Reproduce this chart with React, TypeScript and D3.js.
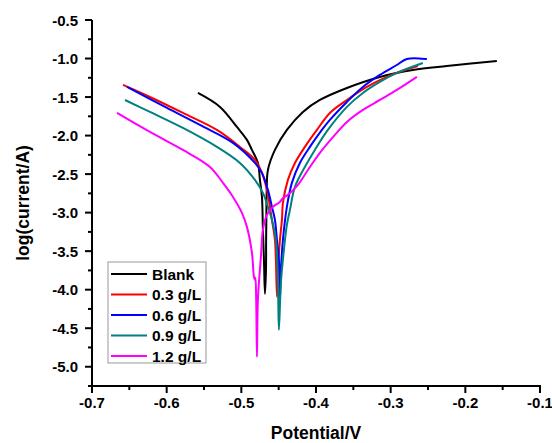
import React from 'react';
import * as d3 from 'd3';

// ---------- data (potential in V, log current) ----------
const blankE = [-0.5581, -0.5286, -0.5059, -0.4925, -0.4858, -0.4778, -0.4751, -0.4724, -0.4711, -0.4697, -0.4684,
  -0.4670, -0.4668, -0.4665, -0.4660, -0.4644, -0.4550, -0.4390, -0.4175, -0.3948, -0.3586, -0.3145, -0.2703, -0.2248, -0.1578];
const blankI = [-1.447, -1.628, -1.888, -2.056, -2.186, -2.355, -2.575, -2.796, -3.224, -3.613, -4.054,
  -3.743, -3.353, -3.094, -2.705, -2.446, -2.186, -1.927, -1.693, -1.538, -1.382, -1.239, -1.149, -1.097, -1.032];

const c03E = [-0.6585, -0.6224, -0.5782, -0.5327, -0.5019, -0.4818, -0.4724, -0.4657, -0.4617, -0.4590, -0.4550, -0.4537, -0.4523,
  -0.4510, -0.4483, -0.4456, -0.4443, -0.4376, -0.4282, -0.4149, -0.3988, -0.3814, -0.3586, -0.3319, -0.3051, -0.2810, -0.2636];
const c03I = [-1.343, -1.499, -1.706, -1.927, -2.147, -2.316, -2.484, -2.705, -2.925, -3.094, -3.353, -3.613, -4.093,
  -3.743, -3.353, -3.094, -2.874, -2.575, -2.355, -2.147, -1.927, -1.706, -1.538, -1.369, -1.239, -1.149, -1.097];

const c06E = [-0.6531, -0.5996, -0.5554, -0.5112, -0.4818, -0.4724, -0.4644, -0.4590, -0.4550, -0.4523, -0.4497, -0.4483,
  -0.4470, -0.4443, -0.4390, -0.4323, -0.4216, -0.4082, -0.3921, -0.3814, -0.3586, -0.3372, -0.3145, -0.2917, -0.2783, -0.2515];
const c06I = [-1.369, -1.641, -1.862, -2.095, -2.355, -2.484, -2.705, -2.925, -3.094, -3.353, -3.613, -4.132,
  -3.743, -3.353, -2.925, -2.614, -2.355, -2.147, -1.927, -1.797, -1.564, -1.369, -1.213, -1.084, -1.006, -1.006];

const c09E = [-0.6558, -0.6224, -0.5782, -0.5327, -0.5019, -0.4818, -0.4711, -0.4644, -0.4590, -0.4537, -0.4510, -0.4497,
  -0.4470, -0.4430, -0.4390, -0.4349, -0.4282, -0.4149, -0.4015, -0.3841, -0.3586, -0.3372, -0.3145, -0.2917, -0.2569];
const c09I = [-1.538, -1.693, -1.901, -2.147, -2.355, -2.575, -2.744, -2.925, -3.094, -3.353, -3.911, -4.521,
  -3.911, -3.483, -3.159, -2.964, -2.666, -2.407, -2.186, -1.927, -1.628, -1.447, -1.304, -1.187, -1.058];

const c12E = [-0.6665, -0.6224, -0.5782, -0.5420, -0.5246, -0.5112, -0.4992, -0.4925, -0.4858, -0.4831, -0.4818, -0.4811, -0.4801, -0.4791,
  -0.4778, -0.4738, -0.4711, -0.4657, -0.4577, -0.4483, -0.4443, -0.4376, -0.4242, -0.4108, -0.3948, -0.3747, -0.3586, -0.3372, -0.3145, -0.2917, -0.2649];
const c12I = [-1.706, -1.953, -2.186, -2.407, -2.614, -2.796, -3.003, -3.185, -3.522, -3.833, -3.872, -3.846, -4.132, -4.871,
  -4.132, -3.574, -3.224, -3.029, -2.925, -2.861, -2.809, -2.770, -2.640, -2.446, -2.225, -1.992, -1.823, -1.667, -1.538, -1.408, -1.239];

const seriesNames = ['Blank', '0.3 g/L', '0.6 g/L', '0.9 g/L', '1.2 g/L'];
const seriesColors = ['#000000', '#ff0000', '#0000ff', '#008080', '#ff00ff'];
const seriesE = [blankE, c03E, c06E, c09E, c12E];
const seriesI = [blankI, c03I, c06I, c09I, c12I];

const xTicks = [-0.7, -0.6, -0.5, -0.4, -0.3, -0.2, -0.1];
const yTicks = [-0.5, -1.0, -1.5, -2.0, -2.5, -3.0, -3.5, -4.0, -4.5, -5.0];
const xDomain = [-0.7, -0.1];
const yDomain = [-5.25, -0.5];

const W = 552, H = 443;
const left = 92, right = 540, top = 20, bottom = 386;
const FONT = 'Liberation Sans, Arial, sans-serif';

export default function App() {
  const x = d3.scaleLinear().domain(xDomain).range([left, right]);
  const y = d3.scaleLinear().domain(yDomain).range([bottom, top]);

  const xMinor = d3.range(-0.65, -0.1, 0.1);
  const yMinor = d3.range(-0.75, -5.3, -0.5);

  const line = d3.line<[number, number]>()
    .x(d => x(d[0]))
    .y(d => y(d[1]))
    .curve(d3.curveCatmullRom.alpha(0.5));

  const legX = 108, legY = 262, legW = 98, legH = 101, rowH = 20.5;

  return (
    <svg width={W} height={H} style={{ position: 'absolute', left: 0, top: 0 }} fontFamily={FONT}>
      <rect width={W} height={H} fill="#fff" />
      {seriesE.map((es, i) => {
        const pts = es.map((e, j) => [e, seriesI[i][j]] as [number, number]);
        return <path key={i} d={line(pts) || ''} fill="none" stroke={seriesColors[i]} strokeWidth={2} strokeLinejoin="round" />;
      })}

      {/* axes */}
      <line x1={left} x2={left} y1={top} y2={bottom} stroke="#000" strokeWidth={2} />
      <line x1={left - 1} x2={right + 1} y1={bottom} y2={bottom} stroke="#000" strokeWidth={2} />
      {xTicks.map(t => (
        <g key={'xt' + t}>
          <line x1={x(t)} x2={x(t)} y1={bottom} y2={bottom + 7} stroke="#000" strokeWidth={2} />
          <text x={x(t)} y={408} textAnchor="middle" fontSize={15} fontWeight="bold">{t.toFixed(1)}</text>
        </g>
      ))}
      {xMinor.map(t => (
        <line key={'xm' + t} x1={x(t)} x2={x(t)} y1={bottom} y2={bottom + 4} stroke="#000" strokeWidth={2} />
      ))}
      {yTicks.map(t => (
        <g key={'yt' + t}>
          <line x1={left - 7} x2={left} y1={y(t)} y2={y(t)} stroke="#000" strokeWidth={2} />
          <text x={78} y={y(t) + 5.5} textAnchor="end" fontSize={15} fontWeight="bold">{t.toFixed(1)}</text>
        </g>
      ))}
      {yMinor.map(t => (
        <line key={'ym' + t} x1={left - 4} x2={left} y1={y(t)} y2={y(t)} stroke="#000" strokeWidth={2} />
      ))}

      <text x={(left + right) / 2} y={439} textAnchor="middle" fontSize={17.5} fontWeight="bold">Potential/V</text>
      <text transform={`translate(29,${(top + bottom) / 2}) rotate(-90)`} textAnchor="middle" fontSize={17.5} fontWeight="bold">log(current/A)</text>

      {/* legend */}
      <rect x={legX} y={legY} width={legW} height={legH} fill="#fff" stroke="#999" strokeWidth={1} />
      {seriesNames.map((n, i) => {
        const cy = legY + 12 + i * rowH;
        return (
          <g key={n}>
            <line x1={legX + 3} x2={legX + 39} y1={cy} y2={cy} stroke={seriesColors[i]} strokeWidth={2} />
            <text x={legX + 44} y={cy + 5.5} fontSize={15.5} fontWeight="bold">{n}</text>
          </g>
        );
      })}
    </svg>
  );
}
